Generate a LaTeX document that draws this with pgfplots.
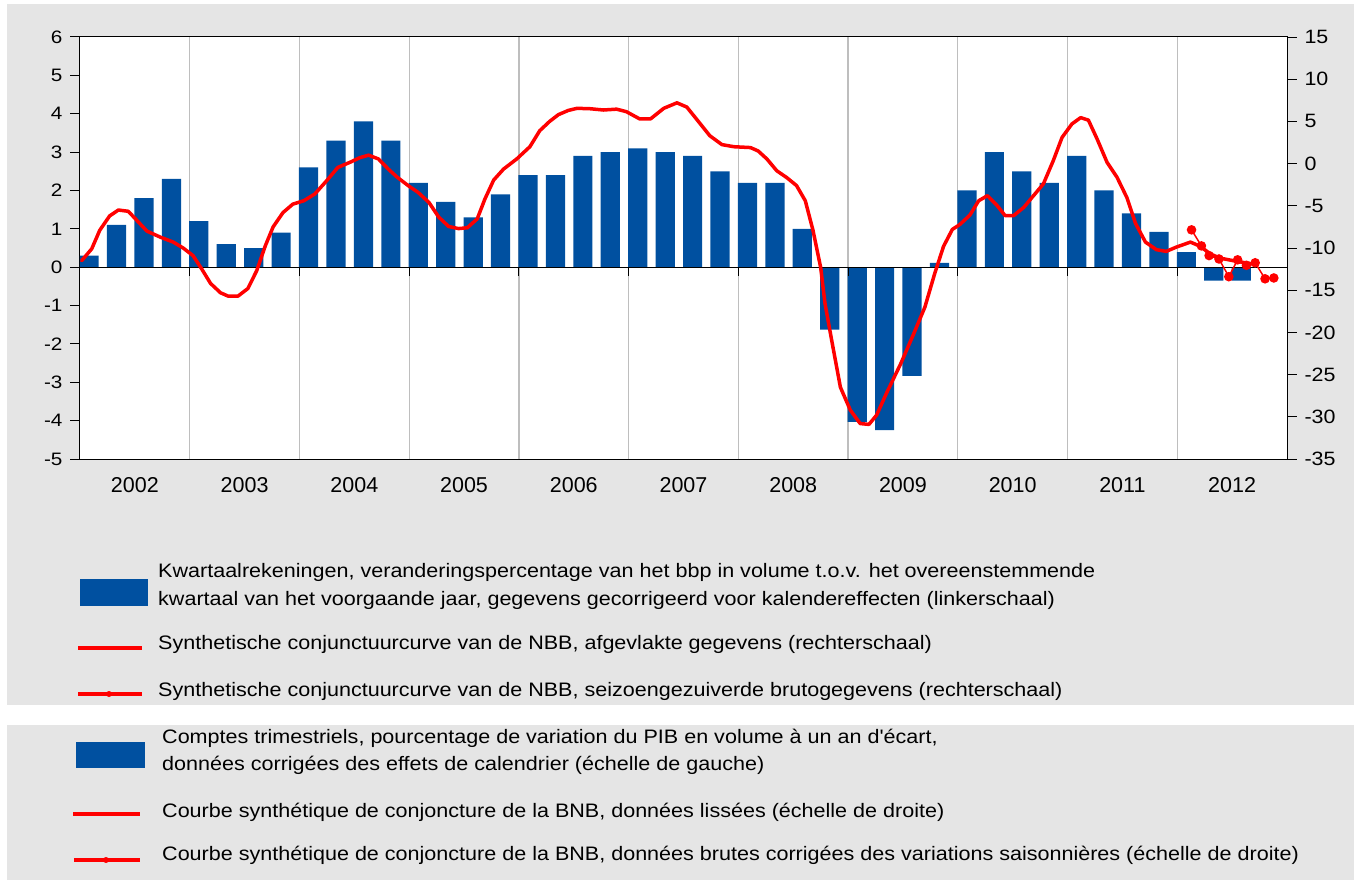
\documentclass[border=0pt]{standalone}
\usepackage{pgfplots}
\usepackage{pgfplotstable}
\usepackage{graphicx}
\pgfplotsset{compat=1.18}
\usepackage{fontspec}
\setmainfont{Liberation Sans}[Ligatures=TeXOff]
\definecolor{barblue}{RGB}{0,80,160}
\definecolor{bg}{RGB}{229,229,229}
\definecolor{gridgray}{RGB}{190,190,190}

\pgfplotstableread{
x y
2002.083 0.30
2002.333 1.10
2002.583 1.80
2002.833 2.30
2003.083 1.20
2003.333 0.60
2003.583 0.50
2003.833 0.90
2004.083 2.60
2004.333 3.30
2004.583 3.80
2004.833 3.30
2005.083 2.20
2005.333 1.70
2005.583 1.30
2005.833 1.90
2006.083 2.40
2006.333 2.40
2006.583 2.90
2006.833 3.00
2007.083 3.10
2007.333 3.00
2007.583 2.90
2007.833 2.50
2008.083 2.20
2008.333 2.20
2008.583 1.00
2008.833 -1.63
2009.083 -4.03
2009.333 -4.25
2009.583 -2.83
2009.833 0.11
2010.083 2.00
2010.333 3.00
2010.583 2.50
2010.833 2.20
2011.083 2.90
2011.333 2.00
2011.583 1.40
2011.833 0.92
2012.083 0.39
2012.333 -0.35
2012.583 -0.35
}\bars

\pgfplotstableread{
x y
2002.015 -11.5
2002.107 -10.1
2002.18 -7.9
2002.27 -6.2
2002.35 -5.5
2002.44 -5.65
2002.52 -6.75
2002.61 -8.0
2002.73 -8.7
2002.85 -9.3
2002.94 -10.0
2003.03 -10.9
2003.11 -12.5
2003.19 -14.2
2003.28 -15.3
2003.35 -15.7
2003.44 -15.7
2003.53 -14.8
2003.61 -12.7
2003.69 -9.7
2003.76 -7.5
2003.85 -5.8
2003.94 -4.8
2004.04 -4.4
2004.14 -3.6
2004.25 -2.0
2004.35 -0.45
2004.46 0.15
2004.55 0.7
2004.63 1.0
2004.72 0.55
2004.81 -0.65
2004.89 -1.6
2004.99 -2.6
2005.08 -3.4
2005.18 -4.6
2005.27 -6.35
2005.36 -7.45
2005.45 -7.7
2005.53 -7.6
2005.62 -6.55
2005.69 -4.2
2005.77 -1.95
2005.86 -0.65
2005.98 0.55
2006.1 2.0
2006.19 3.9
2006.28 5.0
2006.36 5.8
2006.45 6.3
2006.53 6.55
2006.65 6.5
2006.77 6.35
2006.89 6.45
2006.98 6.15
2007.1 5.3
2007.2 5.3
2007.32 6.55
2007.44 7.2
2007.53 6.7
2007.62 5.25
2007.74 3.3
2007.85 2.25
2007.96 2.0
2008.11 1.9
2008.18 1.5
2008.26 0.55
2008.35 -0.85
2008.44 -1.65
2008.53 -2.6
2008.61 -4.4
2008.68 -7.9
2008.75 -12.3
2008.79 -16.6
2008.85 -20.9
2008.93 -26.5
2009.02 -29.2
2009.11 -30.8
2009.19 -30.9
2009.26 -29.8
2009.35 -27.2
2009.48 -23.7
2009.6 -20.1
2009.7 -17.0
2009.79 -13.0
2009.87 -9.8
2009.95 -7.8
2010.02 -7.2
2010.11 -6.1
2010.19 -4.4
2010.27 -3.8
2010.36 -5.0
2010.43 -6.15
2010.51 -6.15
2010.6 -5.2
2010.69 -3.8
2010.78 -2.4
2010.87 0.35
2010.95 3.1
2011.04 4.7
2011.12 5.45
2011.19 5.15
2011.27 2.9
2011.36 0.15
2011.45 -1.6
2011.54 -4.0
2011.62 -7.1
2011.71 -9.3
2011.81 -10.2
2011.9 -10.4
2011.99 -9.9
2012.12 -9.3
2012.21 -9.8
2012.3 -10.7
2012.39 -11.2
2012.51 -11.5
2012.64 -11.8
2012.7 -11.9
}\smoothline

\pgfplotstableread{
x y
2012.13 -7.85
2012.22 -9.75
2012.29 -10.9
2012.38 -11.3
2012.47 -13.4
2012.55 -11.4
2012.63 -12.05
2012.71 -11.75
2012.80 -13.65
2012.88 -13.55
}\rawline

\newcommand{\lgfont}{\fontsize{19.5}{23}\selectfont}
\newcommand{\lgx}[1]{\scalebox{1.105}[1]{#1}}

\begin{document}
\begin{tikzpicture}
\useasboundingbox (0,0) rectangle (1354pt,-880pt);
\fill[white] (0,0) rectangle (1354pt,-880pt);
\fill[bg] (7pt,-4pt) rectangle (1354pt,-705pt);
\fill[bg] (7pt,-725pt) rectangle (1354pt,-880pt);

\begin{axis}[
  at={(80pt,-459pt)}, anchor=south west,
  scale only axis, width=1207pt, height=422pt,
  xmin=2002, xmax=2013, ymin=-5, ymax=6,
  axis background/.style={fill=white},
  axis line style={black, line width=1pt},
  ytick={-5,-4,-3,-2,-1,0,1,2,3,4,5,6},
  ytick pos=left,
  tick align=outside, major tick length=10pt,
  y tick style={black, line width=1pt},
  xtick={2002.5,2003.5,2004.5,2005.5,2006.5,2007.5,2008.5,2009.5,2010.5,2011.5,2012.5},
  xticklabels={2002,2003,2004,2005,2006,2007,2008,2009,2010,2011,2012},
  x tick style={draw=none},
  yticklabel={\scalebox{1.15}[1]{\pgfmathprintnumber{\tick}}},
  yticklabel style={font=\fontsize{18}{22}\selectfont, xshift=-4pt},
  xticklabel style={font=\fontsize{21.5}{26}\selectfont, yshift=-4.5pt},
  /pgf/number format/assume math mode=true,
  clip=true,
]
\pgfplotsinvokeforeach{2003,2004,2005,2006,2007,2008,2009,2010,2011,2012}{
  \draw[gridgray, line width=1.2pt] (axis cs:#1,-5) -- (axis cs:#1,6);
}
\addplot[ybar, bar width=0.175, bar shift=0pt, fill=barblue, draw=none] table {\bars};
\draw[black, line width=1pt] (axis cs:2002,0) -- (axis cs:2013,0);
\pgfplotsinvokeforeach{2003,2004,2005,2006,2007,2008,2009,2010,2011,2012}{
  \draw[black, line width=1pt] (axis cs:#1,0) -- ++(0pt,-9pt);
}
\end{axis}

\begin{axis}[
  at={(80pt,-459pt)}, anchor=south west,
  scale only axis, width=1207pt, height=422pt,
  xmin=2002, xmax=2013, ymin=-35, ymax=15,
  axis x line=none, axis y line*=right,
  axis line style={black, line width=1pt},
  ytick={-35,-30,-25,-20,-15,-10,-5,0,5,10,15},
  tick align=outside, major tick length=10pt,
  y tick style={black, line width=1pt},
  yticklabel={\scalebox{1.11}[1]{\pgfmathprintnumber{\tick}}},
  yticklabel style={font=\fontsize{19.3}{23}\selectfont, xshift=4pt},
  /pgf/number format/assume math mode=true,
  clip=true,
]
\addplot[red, line width=3.5pt, line join=round, line cap=round] table {\smoothline};
\addplot[red, line width=1.5pt, mark=*, mark size=4pt, mark options={fill=red, draw=red}] table {\rawline};
\end{axis}

% legend
\fill[barblue] (80pt,-579pt) rectangle (148pt,-606pt);
\node[anchor=west, inner sep=0pt, font=\lgfont] at (158pt,-572pt) {\lgx{Kwartaalrekeningen, veranderingspercentage van het bbp in volume t.o.v. het overeenstemmende}};
\node[anchor=west, inner sep=0pt, font=\lgfont] at (158pt,-600pt) {\lgx{kwartaal van het voorgaande jaar, gegevens gecorrigeerd voor kalendereffecten (linkerschaal)}};
\draw[red, line width=4pt] (78pt,-648pt) -- (142pt,-648pt);
\node[anchor=west, inner sep=0pt, font=\lgfont] at (158pt,-644pt) {\lgx{Synthetische conjunctuurcurve van de NBB, afgevlakte gegevens (rechterschaal)}};
\draw[red, line width=4pt] (78pt,-694pt) -- (142pt,-694pt);
\fill[red] (109pt,-694pt) circle (3pt);
\node[anchor=west, inner sep=0pt, font=\lgfont] at (158pt,-691pt) {\lgx{Synthetische conjunctuurcurve van de NBB, seizoengezuiverde brutogegevens (rechterschaal)}};

\fill[barblue] (76pt,-742pt) rectangle (145pt,-768pt);
\node[anchor=west, inner sep=0pt, font=\lgfont] at (162pt,-738pt) {\lgx{Comptes trimestriels, pourcentage de variation du PIB en volume à un an d'écart,}};
\node[anchor=west, inner sep=0pt, font=\lgfont] at (162pt,-765pt) {\lgx{données corrigées des effets de calendrier (échelle de gauche)}};
\draw[red, line width=4pt] (73pt,-814pt) -- (140pt,-814pt);
\node[anchor=west, inner sep=0pt, font=\lgfont] at (162pt,-812pt) {\lgx{Courbe synthétique de conjoncture de la BNB, données lissées (échelle de droite)}};
\draw[red, line width=4pt] (74pt,-860pt) -- (140pt,-860pt);
\fill[red] (106pt,-860pt) circle (3pt);
\node[anchor=west, inner sep=0pt, font=\lgfont] at (162pt,-855pt) {\lgx{Courbe synthétique de conjoncture de la BNB, données brutes corrigées des variations saisonnières (échelle de droite)}};
\end{tikzpicture}
\end{document}
